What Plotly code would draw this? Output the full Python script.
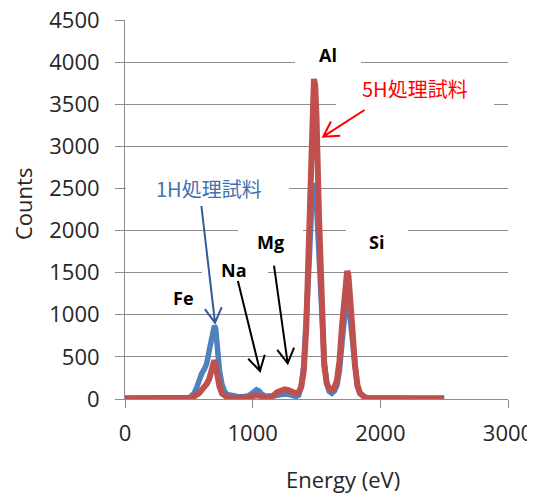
import math
import plotly.graph_objects as go

# ---------------- data ----------------
energy_ev = [0, 100, 200, 300, 400, 450, 500, 520, 540, 560, 580, 600, 620, 640, 660, 680,
             700, 710, 720, 740, 760, 780, 800, 840, 880, 920, 960, 990, 1010, 1030, 1050,
             1070, 1100, 1130, 1160, 1190, 1220, 1250, 1280, 1310, 1340, 1360, 1380, 1400,
             1420, 1440, 1460, 1470, 1480, 1490, 1500, 1520, 1540, 1560, 1580, 1600, 1620,
             1640, 1660, 1680, 1700, 1720, 1730, 1740, 1750, 1760, 1780, 1800, 1820, 1840,
             1860, 1880, 1900, 1950, 2000, 2050, 2100, 2200, 2300, 2400, 2500]

counts_1h = [5, 5, 5, 5, 5, 8, 15, 35, 65, 130, 240, 300, 350, 420, 580, 770,
             870, 840, 620, 340, 170, 87, 55, 35, 30, 28, 35, 60, 95, 110, 95,
             60, 35, 30, 35, 45, 55, 60, 55, 45, 30, 45, 150, 390,
             860, 1550, 2230, 2460, 2560, 2510, 2330, 1700, 990, 470, 180, 90, 68,
             95, 160, 340, 670, 1010, 1120, 1150, 1110, 1010, 680, 350, 150, 65,
             35, 22, 15, 12, 15, 12, 10, 8, 6, 5, 5]

counts_5h = [8, 8, 8, 8, 8, 8, 10, 15, 30, 45, 70, 105, 140, 180, 240, 360,
             460, 400, 300, 150, 65, 35, 22, 15, 12, 12, 18, 30, 40, 45, 40,
             25, 15, 20, 40, 80, 105, 115, 105, 80, 65, 80, 140, 330,
             850, 1850, 3100, 3580, 3800, 3720, 3350, 2150, 1000, 400, 190, 125, 105,
             140, 220, 450, 870, 1320, 1470, 1520, 1470, 1320, 860, 420, 170, 70,
             30, 18, 12, 10, 10, 10, 9, 8, 8, 8, 8]

series_names = ["1H処理試料", "5H処理試料"]
x_tick_values = [0, 1000, 2000, 3000]
y_tick_values = [0, 500, 1000, 1500, 2000, 2500, 3000, 3500, 4000, 4500]

# ---------------- layout geometry ----------------
OFF = 8                      # page body margin
W, H = 527, 485
ML, MR, MT, MB = 117, 27, 12, 94
PW, PH = W - ML - MR, H - MT - MB
XMAX, YMAX = 3000, 4500


def dx(px):
    return (px - OFF - ML) / PW * XMAX


def dy(py):
    return (H - MB - (py - OFF)) / PH * YMAX


def paper_x(px):
    return (px - OFF - ML) / PW


def paper_y(py):
    return (H - MB - (py - OFF)) / PH


BLUE = "#4F81BD"
RED = "#C0504D"
GRID = "#8C8C8C"
TXT = "#262626"
FONT = "Open Sans"

fig = go.Figure()
fig.add_trace(go.Scatter(x=energy_ev, y=counts_1h, mode="lines", name=series_names[0],
                         line=dict(color=BLUE, width=5.5)))
fig.add_trace(go.Scatter(x=energy_ev, y=counts_5h, mode="lines", name=series_names[1],
                         line=dict(color=RED, width=6)))

# white text-box backgrounds that interrupt the gridlines (window pixel boxes)
boxes = [(295, 40, 361, 75), (336, 76, 494, 116), (126, 172, 289, 203),
         (238, 224, 303, 257), (346, 224, 408, 257), (202, 258, 268, 286)]
shapes = []
for (x0, y0, x1, y1) in boxes:
    shapes.append(dict(type="rect", xref="x", yref="y", x0=dx(x0), x1=dx(x1),
                       y0=dy(y1), y1=dy(y0), fillcolor="white",
                       line=dict(width=0), layer="between"))

# arrows: (tail px, head px, colour)
arrows = [((201.4, 206), (215, 322.7), "#2E5C99"),
          ((237.9, 281), (260, 371), "black"),
          ((274, 265.7), (287.7, 363.3), "black"),
          ((364.5, 110), (323.2, 136.7), "#FF0000")]
for (tx, ty), (hx, hy), col in arrows:
    ang = math.atan2(ty - hy, tx - hx)
    wl = 17
    wings = []
    for s in (1, -1):
        a = ang + s * math.radians(30)
        wings.append((hx + wl * math.cos(a), hy + wl * math.sin(a)))
    path = (f"M {dx(tx)},{dy(ty)} L {dx(hx)},{dy(hy)} "
            f"M {dx(wings[0][0])},{dy(wings[0][1])} L {dx(hx)},{dy(hy)} "
            f"L {dx(wings[1][0])},{dy(wings[1][1])}")
    shapes.append(dict(type="path", xref="x", yref="y", path=path,
                       line=dict(color=col, width=2), layer="above"))

annotations = []
labels = [("<b>Al</b>", 327.5, 55, "black", FONT, 18),
          ("5H処理試料", 414.7, 88.5, "#FF0000", "Noto Sans CJK JP", 20),
          ("1H処理試料", 209, 188.5, "#3F72AF", "Noto Sans CJK JP", 20),
          ("<b>Mg</b>", 270, 241.5, "black", FONT, 18),
          ("<b>Si</b>", 376, 241.5, "black", FONT, 18),
          ("<b>Na</b>", 234, 270, "black", FONT, 18),
          ("<b>Fe</b>", 183.3, 298, "black", FONT, 18)]
for text, px, py, col, fam, size in labels:
    annotations.append(dict(text=text, x=paper_x(px), y=paper_y(py), xref="paper", yref="paper",
                            xanchor="center", yanchor="middle", showarrow=False,
                            font=dict(family=fam, size=size, color=col)))

# axis titles
annotations.append(dict(text="Energy (eV)", x=paper_x(343), y=paper_y(479), xref="paper",
                        yref="paper", xanchor="center", yanchor="middle", showarrow=False,
                        font=dict(family=FONT, size=22, color=TXT)))
annotations.append(dict(text="Counts", x=paper_x(23), y=paper_y(204), xref="paper",
                        yref="paper", xanchor="center", yanchor="middle", showarrow=False,
                        textangle=-90, font=dict(family=FONT, size=22, color=TXT)))

fig.update_layout(
    width=W, height=H, margin=dict(l=ML, r=MR, t=MT, b=MB, autoexpand=False),
    paper_bgcolor="white", plot_bgcolor="white", showlegend=False,
    shapes=shapes, annotations=annotations,
    font=dict(family=FONT, size=22, color=TXT),
)
fig.update_xaxes(range=[0, XMAX], tickvals=x_tick_values, showgrid=False,
                 showline=True, linecolor=GRID, linewidth=1, ticks="outside",
                 ticklen=8, tickcolor=GRID, zeroline=False, ticklabelstandoff=7,
                 ticklabeloverflow="allow",
                 tickfont=dict(family=FONT, size=22, color=TXT))
fig.update_yaxes(range=[0, YMAX], tickvals=y_tick_values, showgrid=True,
                 gridcolor=GRID, gridwidth=1, showline=True, linecolor=GRID,
                 linewidth=1, ticks="outside", ticklen=9, tickcolor=GRID, zeroline=False,
                 ticklabelstandoff=11, ticklabeloverflow="allow",
                 tickfont=dict(family=FONT, size=22, color=TXT))

fig.write_html("out.html")
